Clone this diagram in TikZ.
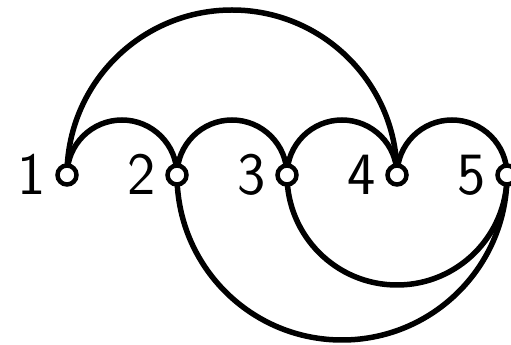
\documentclass[tikz,border=0pt]{standalone}
\usepackage{fontspec}
\usetikzlibrary{calc}
\pgfdeclarelayer{bg}
\pgfsetlayers{bg,main}
\tikzset{
  vertex/.style={circle, draw, fill=white, line width=4.5pt, minimum size=19pt, inner sep=0pt},
  lab/.style={anchor=base east, inner sep=0pt, font=\sffamily\fontsize{60}{60}\selectfont},
  edge/.style={line width=5.5pt},
  upper/.style={to path={let \p1=(\tikztostart), \p2=(\tikztotarget), \n1={0.5*(\x2-\x1)} in arc[start angle=180, end angle=0, radius=\n1]}},
  lower/.style={to path={let \p1=(\tikztostart), \p2=(\tikztotarget), \n1={0.5*(\x2-\x1)} in arc[start angle=180, end angle=360, radius=\n1]}}
}
\begin{document}
\begin{tikzpicture}[x=1pt, y=1pt]
\useasboundingbox (0,0) rectangle (511,345);
\foreach \i/\x in {1/67, 2/177, 3/287, 4/397, 5/507} {
  \node[vertex] (n\i) at (\x,170) {};
  \node[lab] (l\i) at (\x-21,150.5) {\i};
}
\begin{pgfonlayer}{bg}
\draw[edge] (n1.center) to[upper] (n2.center);
\draw[edge] (n2.center) to[upper] (n3.center);
\draw[edge] (n3.center) to[upper] (n4.center);
\draw[edge] (n4.center) to[upper] (n5.center);
\draw[edge] (n1.center) to[upper] (n4.center);
\draw[edge] (n3.center) to[lower] (n5.center);
\draw[edge] (n2.center) to[lower] (n5.center);
\end{pgfonlayer}
\end{tikzpicture}
\end{document}
